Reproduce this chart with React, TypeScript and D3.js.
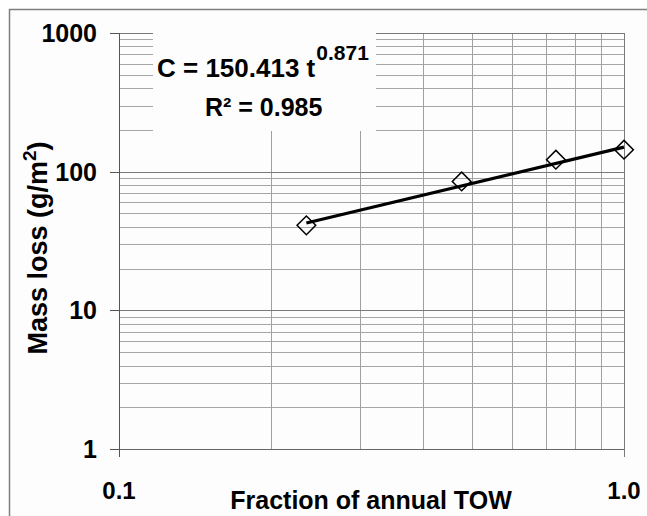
import React, { useEffect, useRef } from 'react';
import * as d3 from 'd3';

const towFraction = [0.235, 0.477, 0.733, 1.0];
const massLoss = [41, 85, 122, 144];

// power-law fit shown in the chart
const fitCoef = 150.413;
const fitExp = 0.871;
const r2 = 0.985;

const yTicks = [1, 10, 100, 1000];
const yTickLabels = ['1', '10', '100', '1000'];
const xTicks = [0.1, 1.0];
const xTickLabels = ['0.1', '1.0'];

const W = 647;
const H = 516;
const plot = { left: 119, right: 624, top: 33, bottom: 449 };
const font = "'Liberation Sans', Arial, sans-serif";

export default function App() {
  const svgRef = useRef<SVGSVGElement>(null);

  useEffect(() => {
    if (!svgRef.current) return;
    const svg = d3.select(svgRef.current);
    svg.selectAll('*').remove();

    const x = d3.scaleLog().domain([0.1, 1]).range([plot.left, plot.right]);
    const y = d3.scaleLog().domain([1, 1000]).range([plot.bottom, plot.top]);
    const px = (v: number) => Math.round(v) + 0.5;

    // outer frame (runs off the right and bottom edges)
    svg.append('rect')
      .attr('x', 9.5).attr('y', 9.5)
      .attr('width', W + 20).attr('height', H + 20)
      .attr('fill', '#fdfdfd')
      .attr('stroke', '#7f7f7f')
      .attr('stroke-width', 1.5);

    const g = svg.append('g');

    // horizontal grid: minors then decades
    const minorY: number[] = [];
    [1, 10, 100].forEach(d => {
      for (let k = 2; k <= 9; k++) minorY.push(d * k);
    });
    g.selectAll('line.hminor')
      .data(minorY)
      .join('line')
      .attr('x1', plot.left).attr('x2', plot.right)
      .attr('y1', d => px(y(d)))
      .attr('y2', d => px(y(d)))
      .attr('stroke', '#a6a6a6');

    const minorX: number[] = [];
    for (let k = 2; k <= 9; k++) minorX.push(k / 10);
    g.selectAll('line.vminor')
      .data(minorX)
      .join('line')
      .attr('x1', d => px(x(d)))
      .attr('x2', d => px(x(d)))
      .attr('y1', plot.top).attr('y2', plot.bottom)
      .attr('stroke', '#a0a0a0');

    g.selectAll('line.hmajor')
      .data([10, 100, 1000])
      .join('line')
      .attr('x1', plot.left).attr('x2', plot.right)
      .attr('y1', d => px(y(d)))
      .attr('y2', d => px(y(d)))
      .attr('stroke', '#7a7a7a');

    // line at x = 1.0, continuing below the axis as a tick
    g.append('line')
      .attr('x1', px(x(1))).attr('x2', px(x(1)))
      .attr('y1', plot.top).attr('y2', plot.bottom + 8)
      .attr('stroke', '#7a7a7a');

    // x axis line
    g.append('line')
      .attr('x1', plot.left).attr('x2', plot.right)
      .attr('y1', px(y(1))).attr('y2', px(y(1)))
      .attr('stroke', '#666');

    // y axis line + ticks
    g.append('line')
      .attr('x1', plot.left + 0.5).attr('x2', plot.left + 0.5)
      .attr('y1', plot.top).attr('y2', plot.bottom + 8)
      .attr('stroke', '#555');
    g.selectAll('line.ytick')
      .data(yTicks)
      .join('line')
      .attr('x1', plot.left - 9).attr('x2', plot.left)
      .attr('y1', d => px(y(d)))
      .attr('y2', d => px(y(d)))
      .attr('stroke', '#555');

    // equation box
    g.append('rect')
      .attr('x', 153).attr('y', 28)
      .attr('width', 223).attr('height', 103)
      .attr('fill', '#fdfdfd');

    const eq = g.append('text')
      .attr('x', 157).attr('y', 77)
      .attr('font-family', font)
      .attr('font-weight', 'bold')
      .attr('font-size', 26)
      .attr('fill', '#000');
    eq.append('tspan').text(`C = ${fitCoef} t`);
    eq.append('tspan')
      .attr('dx', 1)
      .attr('dy', -17)
      .attr('font-size', 21)
      .text(String(fitExp));

    g.append('text')
      .attr('x', 205).attr('y', 116)
      .attr('font-family', font)
      .attr('font-weight', 'bold')
      .attr('font-size', 25)
      .text(`R² = ${r2}`);

    // fit line (straight on log-log)
    const tMin = d3.min(towFraction) as number;
    const tMax = d3.max(towFraction) as number;
    const fitPts: [number, number][] = [tMin, tMax].map(t => [t, fitCoef * Math.pow(t, fitExp)]);
    g.append('path')
      .attr('d', d3.line<[number, number]>().x(d => x(d[0])).y(d => y(d[1]))(fitPts) as string)
      .attr('stroke', '#000')
      .attr('stroke-width', 3.2)
      .attr('fill', 'none');

    // diamond markers
    g.selectAll('path.pt')
      .data(towFraction.map((t, i) => [t, massLoss[i]]))
      .join('path')
      .attr('transform', d => `translate(${x(d[0])},${y(d[1])}) rotate(45)`)
      .attr('d', d3.symbol().type(d3.symbolSquare).size(175)() as string)
      .attr('fill', 'none')
      .attr('stroke', '#000')
      .attr('stroke-width', 1.5);

    // tick labels
    g.selectAll('text.ylab')
      .data(yTicks)
      .join('text')
      .attr('x', 97)
      .attr('y', d => y(d) + 9)
      .attr('text-anchor', 'end')
      .attr('font-family', font)
      .attr('font-weight', 'bold')
      .attr('font-size', 25)
      .text((d, i) => yTickLabels[i]);

    g.selectAll('text.xlab')
      .data(xTicks)
      .join('text')
      .attr('x', d => x(d))
      .attr('y', 499)
      .attr('text-anchor', 'middle')
      .attr('font-family', font)
      .attr('font-weight', 'bold')
      .attr('font-size', 24)
      .text((d, i) => xTickLabels[i]);

    // axis titles
    g.append('text')
      .attr('x', 371).attr('y', 509)
      .attr('text-anchor', 'middle')
      .attr('font-family', font)
      .attr('font-weight', 'bold')
      .attr('font-size', 25)
      .text('Fraction of annual TOW');

    const yt = g.append('text')
      .attr('transform', 'translate(47,248) rotate(-90)')
      .attr('text-anchor', 'middle')
      .attr('font-family', font)
      .attr('font-weight', 'bold')
      .attr('font-size', 27);
    yt.append('tspan').text('Mass loss (g/m');
    yt.append('tspan').attr('dy', -11).attr('font-size', 19).text('2');
    yt.append('tspan').attr('dy', 11).text(')');
  }, []);

  return (
    <svg
      ref={svgRef}
      width={W}
      height={H}
      style={{ position: 'absolute', left: 0, top: 0, display: 'block', background: '#fff' }}
    />
  );
}
